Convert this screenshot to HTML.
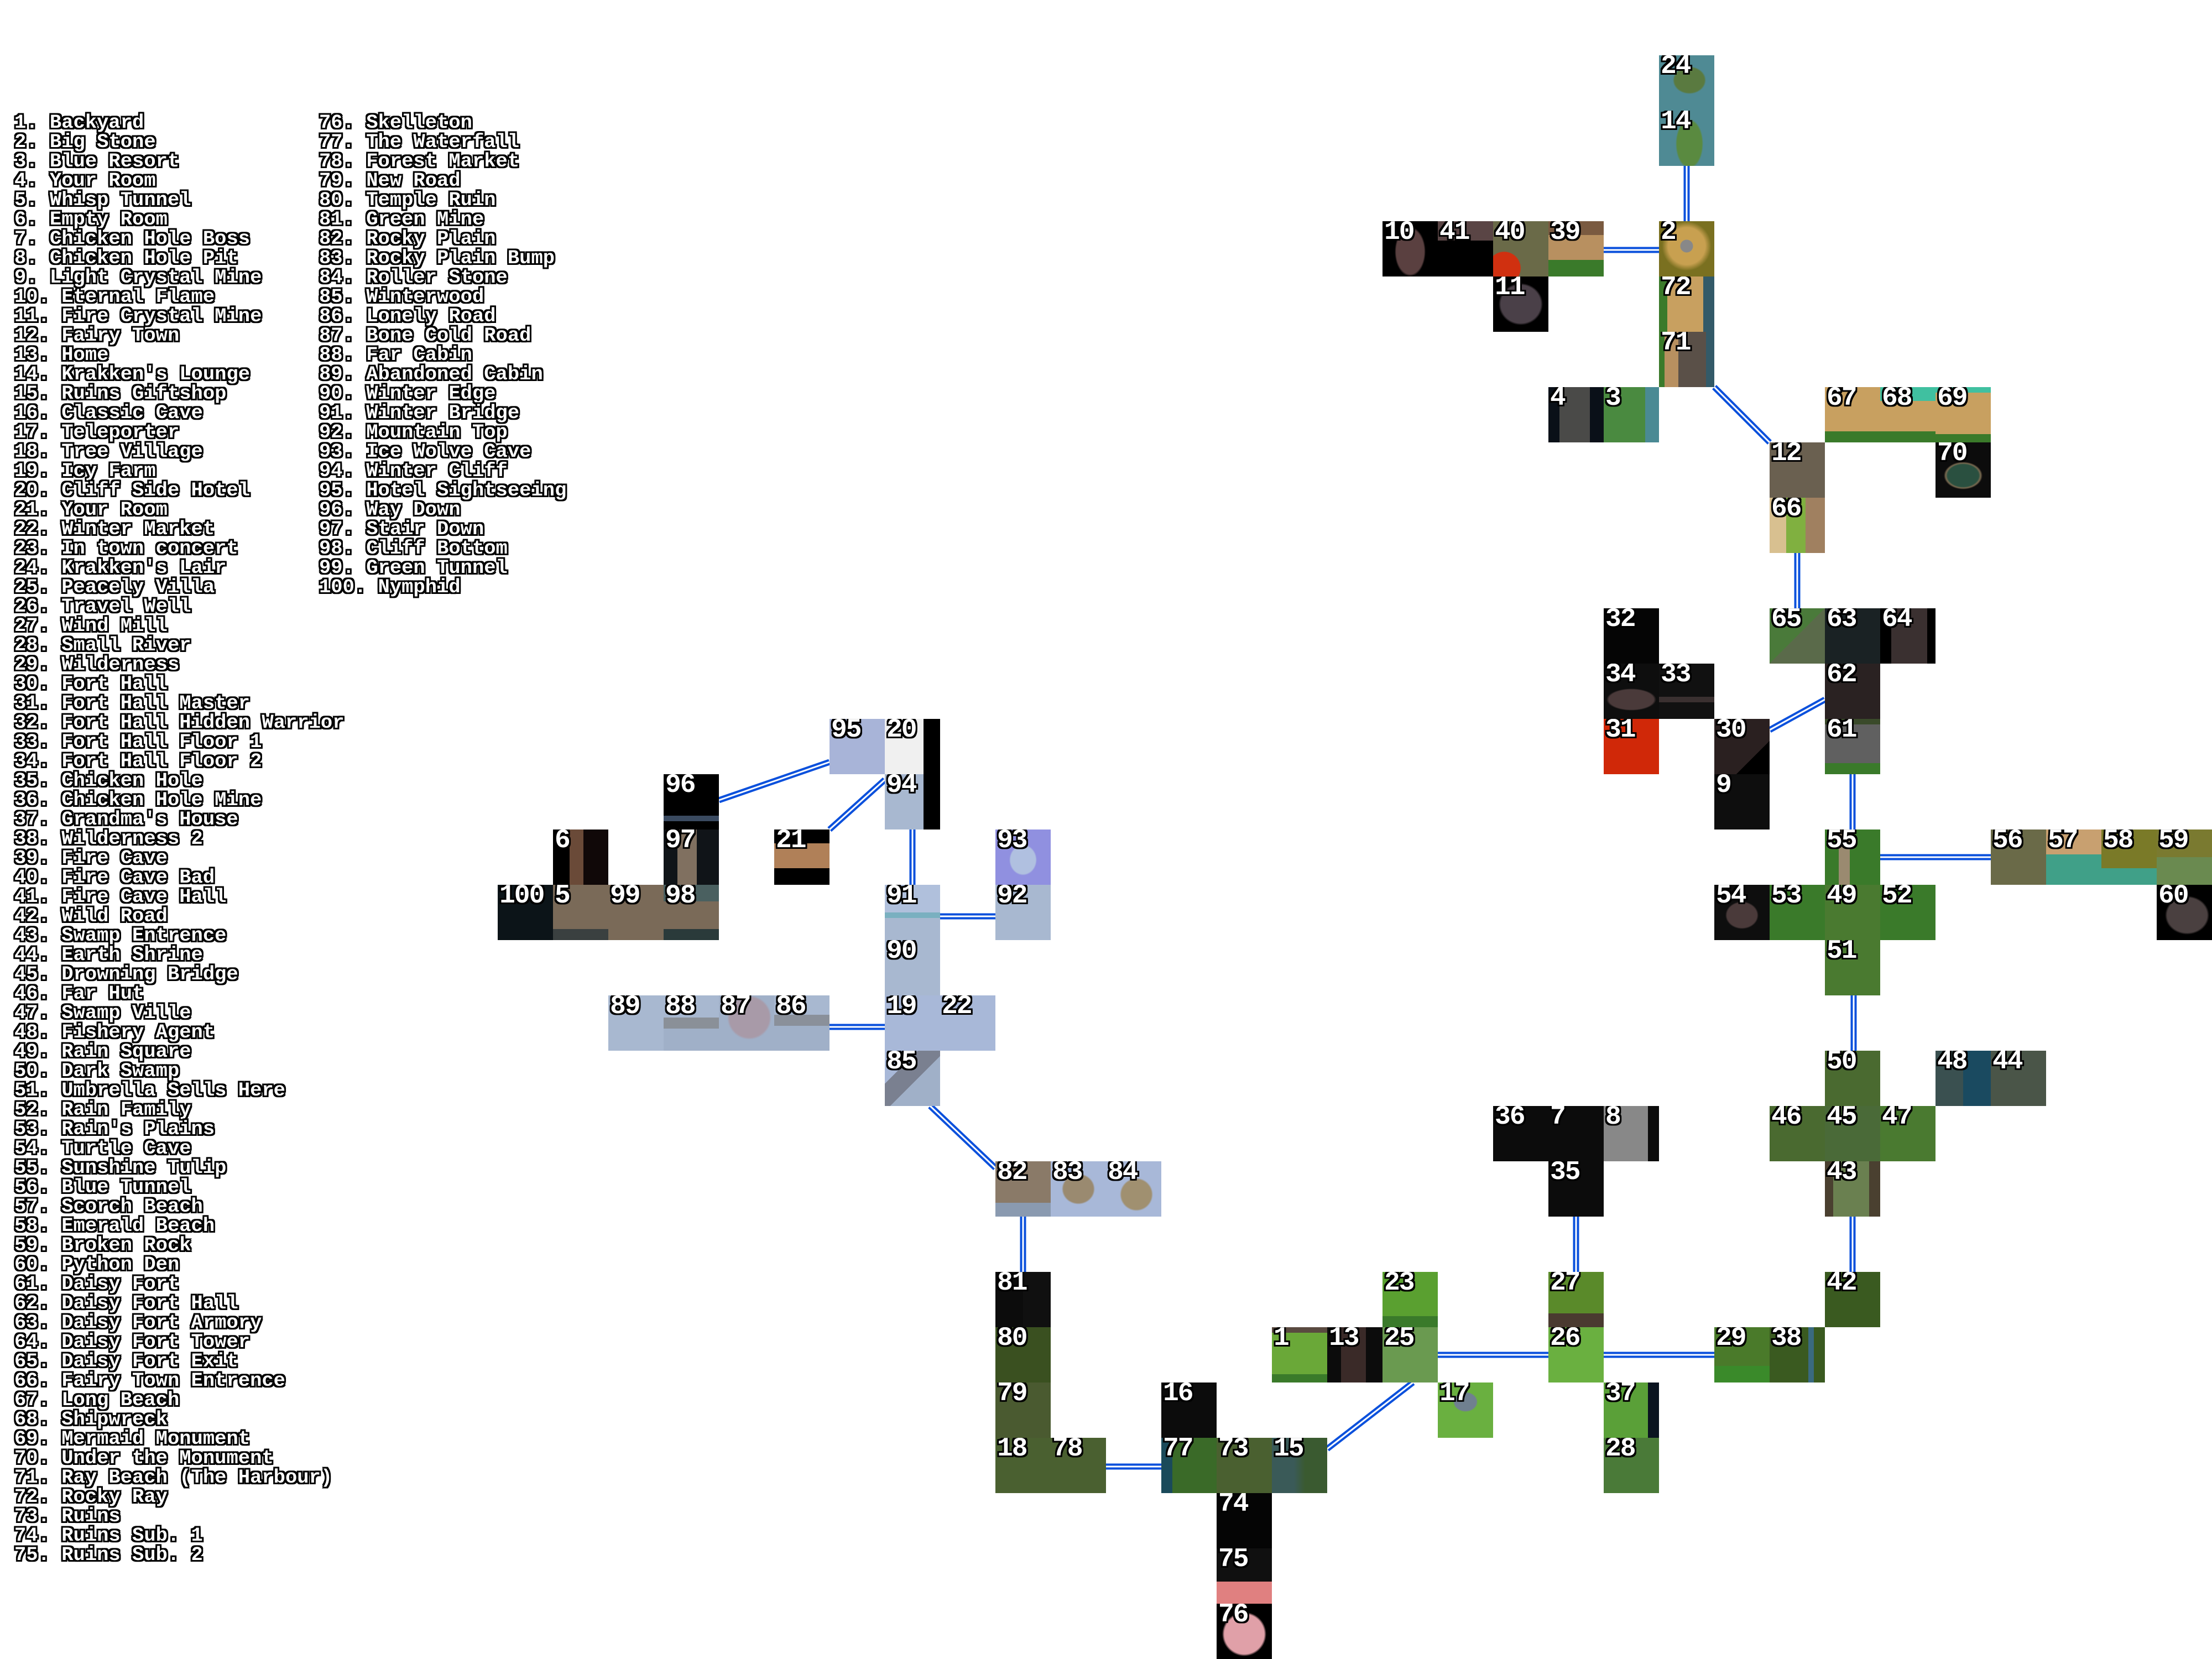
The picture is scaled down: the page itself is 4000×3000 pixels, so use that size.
<!DOCTYPE html>
<html><head><meta charset="utf-8"><style>
html,body{margin:0;padding:0;background:#fff}
body{width:4000px;height:3000px;position:relative;overflow:hidden}
.t{position:absolute;width:100px;height:100px;overflow:hidden}
.t span{position:absolute;left:3px;top:-7px;font:bold 48px "Liberation Mono",monospace;color:#fff;letter-spacing:-2px;
text-shadow:-3px -3px 0 #000,3px -3px 0 #000,-3px 3px 0 #000,3px 3px 0 #000,0 3px 0 #000,0 -3px 0 #000,3px 0 0 #000,-3px 0 0 #000}
.list{position:absolute;font:bold 35.5px/35px "Liberation Mono",monospace;color:#fff;white-space:pre;
text-shadow:-3px -3px 0 #000,3px -3px 0 #000,-3px 3px 0 #000,3px 3px 0 #000,0 3px 0 #000,0 -3px 0 #000,3px 0 0 #000,-3px 0 0 #000}
svg{position:absolute;left:0;top:0}
</style></head><body>
<svg width="4000" height="3000">
<g stroke="#0a50dc" stroke-width="11" fill="none">
<line x1="3050" y1="300" x2="3050" y2="400"/>
<line x1="2900" y1="452" x2="3000" y2="452"/>
<line x1="3100" y1="700" x2="3200" y2="800"/>
<line x1="3250" y1="1000" x2="3250" y2="1100"/>
<line x1="3200" y1="1320" x2="3300" y2="1265"/>
<line x1="3350" y1="1400" x2="3350" y2="1500"/>
<line x1="3400" y1="1550" x2="3600" y2="1550"/>
<line x1="3352" y1="1800" x2="3352" y2="1900"/>
<line x1="3350" y1="2200" x2="3350" y2="2300"/>
<line x1="2850" y1="2200" x2="2850" y2="2300"/>
<line x1="2600" y1="2450" x2="2800" y2="2450"/>
<line x1="2900" y1="2450" x2="3100" y2="2450"/>
<line x1="2555" y1="2500" x2="2400" y2="2620"/>
<line x1="2000" y1="2652" x2="2100" y2="2652"/>
<line x1="1850" y1="2200" x2="1850" y2="2300"/>
<line x1="1682" y1="2000" x2="1800" y2="2112"/>
<line x1="1650" y1="1500" x2="1650" y2="1600"/>
<line x1="1700" y1="1657" x2="1800" y2="1657"/>
<line x1="1500" y1="1857" x2="1600" y2="1857"/>
<line x1="1300" y1="1447" x2="1500" y2="1378"/>
<line x1="1500" y1="1500" x2="1600" y2="1410"/>
</g>
<g stroke="#fff" stroke-width="3" fill="none">
<line x1="3050" y1="300" x2="3050" y2="400"/>
<line x1="2900" y1="452" x2="3000" y2="452"/>
<line x1="3100" y1="700" x2="3200" y2="800"/>
<line x1="3250" y1="1000" x2="3250" y2="1100"/>
<line x1="3200" y1="1320" x2="3300" y2="1265"/>
<line x1="3350" y1="1400" x2="3350" y2="1500"/>
<line x1="3400" y1="1550" x2="3600" y2="1550"/>
<line x1="3352" y1="1800" x2="3352" y2="1900"/>
<line x1="3350" y1="2200" x2="3350" y2="2300"/>
<line x1="2850" y1="2200" x2="2850" y2="2300"/>
<line x1="2600" y1="2450" x2="2800" y2="2450"/>
<line x1="2900" y1="2450" x2="3100" y2="2450"/>
<line x1="2555" y1="2500" x2="2400" y2="2620"/>
<line x1="2000" y1="2652" x2="2100" y2="2652"/>
<line x1="1850" y1="2200" x2="1850" y2="2300"/>
<line x1="1682" y1="2000" x2="1800" y2="2112"/>
<line x1="1650" y1="1500" x2="1650" y2="1600"/>
<line x1="1700" y1="1657" x2="1800" y2="1657"/>
<line x1="1500" y1="1857" x2="1600" y2="1857"/>
<line x1="1300" y1="1447" x2="1500" y2="1378"/>
<line x1="1500" y1="1500" x2="1600" y2="1410"/>
</g>
</svg>

<div class="list" style="left:26px;top:204px">1. Backyard
2. Big Stone
3. Blue Resort
4. Your Room
5. Whisp Tunnel
6. Empty Room
7. Chicken Hole Boss
8. Chicken Hole Pit
9. Light Crystal Mine
10. Eternal Flame
11. Fire Crystal Mine
12. Fairy Town
13. Home
14. Krakken's Lounge
15. Ruins Giftshop
16. Classic Cave
17. Teleporter
18. Tree Village
19. Icy Farm
20. Cliff Side Hotel
21. Your Room
22. Winter Market
23. In town concert
24. Krakken's Lair
25. Peacely Villa
26. Travel Well
27. Wind Mill
28. Small River
29. Wilderness
30. Fort Hall
31. Fort Hall Master
32. Fort Hall Hidden Warrior
33. Fort Hall Floor 1
34. Fort Hall Floor 2
35. Chicken Hole
36. Chicken Hole Mine
37. Grandma's House
38. Wilderness 2
39. Fire Cave
40. Fire Cave Bad
41. Fire Cave Hall
42. Wild Road
43. Swamp Entrence
44. Earth Shrine
45. Drowning Bridge
46. Far Hut
47. Swamp Ville
48. Fishery Agent
49. Rain Square
50. Dark Swamp
51. Umbrella Sells Here
52. Rain Family
53. Rain's Plains
54. Turtle Cave
55. Sunshine Tulip
56. Blue Tunnel
57. Scorch Beach
58. Emerald Beach
59. Broken Rock
60. Python Den
61. Daisy Fort
62. Daisy Fort Hall
63. Daisy Fort Armory
64. Daisy Fort Tower
65. Daisy Fort Exit
66. Fairy Town Entrence
67. Long Beach
68. Shipwreck
69. Mermaid Monument
70. Under the Monument
71. Ray Beach (The Harbour)
72. Rocky Ray
73. Ruins
74. Ruins Sub. 1
75. Ruins Sub. 2</div>
<div class="list" style="left:577px;top:204px">76. Skelleton
77. The Waterfall
78. Forest Market
79. New Road
80. Temple Ruin
81. Green Mine
82. Rocky Plain
83. Rocky Plain Bump
84. Roller Stone
85. Winterwood
86. Lonely Road
87. Bone Cold Road
88. Far Cabin
89. Abandoned Cabin
90. Winter Edge
91. Winter Bridge
92. Mountain Top
93. Ice Wolve Cave
94. Winter Cliff
95. Hotel Sightseeing
96. Way Down
97. Stair Down
98. Cliff Bottom
99. Green Tunnel
100. Nymphid</div>

<div class="t" style="left:3000px;top:100px;background:radial-gradient(ellipse 30px 25px at 55% 45%,#5a7a40 90%,transparent 100%),#4f8a94"><span>24</span></div>
<div class="t" style="left:3000px;top:200px;background:radial-gradient(ellipse 25px 45px at 55% 60%,#5a8a40 90%,transparent 100%),#4f8a94"><span>14</span></div>
<div class="t" style="left:2500px;top:400px;background:radial-gradient(ellipse 28px 45px at 50% 55%,#5a4040 90%,transparent 100%),#000"><span>10</span></div>
<div class="t" style="left:2600px;top:400px;background:linear-gradient(#5a4545 0 35%,#000 35%)"><span>41</span></div>
<div class="t" style="left:2700px;top:400px;background:radial-gradient(circle at 20% 85%,#d03010 25%,transparent 26%),#6a6a48"><span>40</span></div>
<div class="t" style="left:2800px;top:400px;background:linear-gradient(#7a5a40 0 25%,#b89060 25% 70%,#3a7a2a 70%)"><span>39</span></div>
<div class="t" style="left:3000px;top:400px;background:radial-gradient(circle at 50% 45%,#888 15%,#c8a050 16% 45%,#7a7020 60%)"><span>2</span></div>
<div class="t" style="left:2700px;top:500px;background:radial-gradient(ellipse 40px 38px at 50% 50%,#4a4048 90%,#000 100%)"><span>11</span></div>
<div class="t" style="left:3000px;top:500px;background:linear-gradient(90deg,#3a7a2a 0 15%,#c8a060 15% 80%,#335a68 80%)"><span>72</span></div>
<div class="t" style="left:3000px;top:600px;background:linear-gradient(90deg,#3a7a2a 0 10%,#b89060 10% 35%,#5a5048 35% 85%,#335a68 85%)"><span>71</span></div>
<div class="t" style="left:2800px;top:700px;background:linear-gradient(90deg,#0a1018 0 20%,#4a4a48 20% 75%,#0a1018 75%)"><span>4</span></div>
<div class="t" style="left:2900px;top:700px;background:linear-gradient(90deg,#4a8a40 0 75%,#4a8a94 75%)"><span>3</span></div>
<div class="t" style="left:3300px;top:700px;background:linear-gradient(#c8a060 0 80%,#3a7a2a 80%)"><span>67</span></div>
<div class="t" style="left:3400px;top:700px;background:linear-gradient(#40c0a0 0 25%,#c8a060 25% 80%,#3a7a2a 80%)"><span>68</span></div>
<div class="t" style="left:3500px;top:700px;background:linear-gradient(#40c0a0 0 10%,#c8a060 10% 85%,#3a7a2a 85%)"><span>69</span></div>
<div class="t" style="left:3200px;top:800px;background:#6a6050"><span>12</span></div>
<div class="t" style="left:3500px;top:800px;background:radial-gradient(ellipse 35px 25px at 50% 60%,#2a5040 80%,#7a6a50 90%,#0c0c0c 100%)"><span>70</span></div>
<div class="t" style="left:3200px;top:900px;background:linear-gradient(90deg,#d8c090 0 30%,#80b040 30% 65%,#a08060 65%)"><span>66</span></div>
<div class="t" style="left:2900px;top:1100px;background:#050505"><span>32</span></div>
<div class="t" style="left:2900px;top:1200px;background:radial-gradient(ellipse 45px 20px at 50% 65%,#4a3a3a 90%,#0e0e0e 100%)"><span>34</span></div>
<div class="t" style="left:3000px;top:1200px;background:linear-gradient(#111 0 60%,#3a3030 60% 70%,#111 70%)"><span>33</span></div>
<div class="t" style="left:2900px;top:1300px;background:#d02808"><span>31</span></div>
<div class="t" style="left:3100px;top:1300px;background:linear-gradient(135deg,#2a2020 0 70%,#000 70%)"><span>30</span></div>
<div class="t" style="left:3100px;top:1400px;background:#0e0e0e"><span>9</span></div>
<div class="t" style="left:3200px;top:1100px;background:linear-gradient(135deg,#4a7a3a 0 50%,#5a6a4a 50%)"><span>65</span></div>
<div class="t" style="left:3300px;top:1100px;background:#1a2224"><span>63</span></div>
<div class="t" style="left:3400px;top:1100px;background:linear-gradient(90deg,#000 0 20%,#3a3030 20% 85%,#000 85%)"><span>64</span></div>
<div class="t" style="left:3300px;top:1200px;background:#2a2222"><span>62</span></div>
<div class="t" style="left:3300px;top:1300px;background:linear-gradient(#3a4a2a 0 10%,#606060 10% 80%,#3a7a2a 80%)"><span>61</span></div>
<div class="t" style="left:3300px;top:1500px;background:linear-gradient(90deg,#3a7a2a 0 25%,#9a8a70 25% 45%,#3a7a2a 45%)"><span>55</span></div>
<div class="t" style="left:3600px;top:1500px;background:#6a6a48"><span>56</span></div>
<div class="t" style="left:3700px;top:1500px;background:linear-gradient(#c8a070 0 45%,#40a088 45%)"><span>57</span></div>
<div class="t" style="left:3800px;top:1500px;background:linear-gradient(#7a7a28 0 70%,#40a088 70%)"><span>58</span></div>
<div class="t" style="left:3900px;top:1500px;background:linear-gradient(#7a7a30 0 50%,#6a8a50 50%)"><span>59</span></div>
<div class="t" style="left:3100px;top:1600px;background:radial-gradient(ellipse 30px 25px at 50% 55%,#4a3a3a 90%,#0e0e0e 100%)"><span>54</span></div>
<div class="t" style="left:3200px;top:1600px;background:#3a7a2a"><span>53</span></div>
<div class="t" style="left:3300px;top:1600px;background:#4a7a30"><span>49</span></div>
<div class="t" style="left:3400px;top:1600px;background:#3a7a2a"><span>52</span></div>
<div class="t" style="left:3900px;top:1600px;background:radial-gradient(ellipse 40px 35px at 55% 55%,#4a4040 90%,#000 100%)"><span>60</span></div>
<div class="t" style="left:3300px;top:1700px;background:#4a7a30"><span>51</span></div>
<div class="t" style="left:3300px;top:1900px;background:#4a6a30"><span>50</span></div>
<div class="t" style="left:3500px;top:1900px;background:linear-gradient(90deg,#3a5050 0 50%,#1a4a60 50%)"><span>48</span></div>
<div class="t" style="left:3600px;top:1900px;background:#4a5548"><span>44</span></div>
<div class="t" style="left:3200px;top:2000px;background:#4a6a30"><span>46</span></div>
<div class="t" style="left:3300px;top:2000px;background:#4a6a38"><span>45</span></div>
<div class="t" style="left:3400px;top:2000px;background:#4a7a30"><span>47</span></div>
<div class="t" style="left:2700px;top:2000px;background:#0c0c0c"><span>36</span></div>
<div class="t" style="left:2800px;top:2000px;background:#0c0c0c"><span>7</span></div>
<div class="t" style="left:2900px;top:2000px;background:linear-gradient(90deg,#888 0 80%,#0c0c0c 80%)"><span>8</span></div>
<div class="t" style="left:2800px;top:2100px;background:#0c0c0c"><span>35</span></div>
<div class="t" style="left:3300px;top:2100px;background:linear-gradient(90deg,#4a4030 0 15%,#6a8050 15% 80%,#4a4030 80%)"><span>43</span></div>
<div class="t" style="left:3300px;top:2300px;background:#3a5a20"><span>42</span></div>
<div class="t" style="left:2800px;top:2300px;background:linear-gradient(#5a8a2a 0 75%,#4a3a30 75%)"><span>27</span></div>
<div class="t" style="left:2500px;top:2300px;background:linear-gradient(#5aa030 0 80%,#3a7a2a 80%)"><span>23</span></div>
<div class="t" style="left:2300px;top:2400px;background:linear-gradient(#5a4a40 0 10%,#6aa838 10% 85%,#3a7a2a 85%)"><span>1</span></div>
<div class="t" style="left:2400px;top:2400px;background:linear-gradient(90deg,#0c0c0c 0 25%,#3a2a28 25% 70%,#0c0c0c 70%)"><span>13</span></div>
<div class="t" style="left:2500px;top:2400px;background:#6a9a50"><span>25</span></div>
<div class="t" style="left:2800px;top:2400px;background:#6ab040"><span>26</span></div>
<div class="t" style="left:3100px;top:2400px;background:linear-gradient(#4a7a2a 0 70%,#3a8a2a 70%)"><span>29</span></div>
<div class="t" style="left:3200px;top:2400px;background:linear-gradient(90deg,#3a5a20 0 70%,#3a6a80 70% 80%,#3a5a20 80%)"><span>38</span></div>
<div class="t" style="left:2600px;top:2500px;background:radial-gradient(ellipse 22px 18px at 50% 35%,#708090 90%,#6ab040 100%)"><span>17</span></div>
<div class="t" style="left:2900px;top:2500px;background:linear-gradient(90deg,#5aa038 0 80%,#0a1420 80%)"><span>37</span></div>
<div class="t" style="left:2900px;top:2600px;background:#4a7a38"><span>28</span></div>
<div class="t" style="left:2100px;top:2500px;background:#0c0c0c"><span>16</span></div>
<div class="t" style="left:2100px;top:2600px;background:linear-gradient(90deg,#1a4a5a 0 20%,#3a6a28 20%)"><span>77</span></div>
<div class="t" style="left:2200px;top:2600px;background:#4a6030"><span>73</span></div>
<div class="t" style="left:2300px;top:2600px;background:linear-gradient(90deg,#3a5a58 0 40%,#3a5a30 60%)"><span>15</span></div>
<div class="t" style="left:1800px;top:2600px;background:#4a6030"><span>18</span></div>
<div class="t" style="left:1900px;top:2600px;background:#4a6030"><span>78</span></div>
<div class="t" style="left:2200px;top:2700px;background:#050505"><span>74</span></div>
<div class="t" style="left:2200px;top:2800px;background:linear-gradient(#101010 0 60%,#e08080 60%)"><span>75</span></div>
<div class="t" style="left:2200px;top:2900px;background:radial-gradient(ellipse 40px 40px at 50% 55%,#e0a0a8 90%,#000 100%)"><span>76</span></div>
<div class="t" style="left:1800px;top:2300px;background:linear-gradient(90deg,#0c0c0c 0 50%,#101010 50%)"><span>81</span></div>
<div class="t" style="left:1800px;top:2400px;background:#3a5020"><span>80</span></div>
<div class="t" style="left:1800px;top:2500px;background:#4a5a30"><span>79</span></div>
<div class="t" style="left:1800px;top:2100px;background:linear-gradient(#8a7a68 0 75%,#8a9ab0 75%)"><span>82</span></div>
<div class="t" style="left:1900px;top:2100px;background:radial-gradient(ellipse 30px 28px at 50% 50%,#9a8a70 90%,#a8b8d8 100%)"><span>83</span></div>
<div class="t" style="left:2000px;top:2100px;background:radial-gradient(ellipse 30px 30px at 55% 60%,#a09070 90%,#a8b8d8 100%)"><span>84</span></div>
<div class="t" style="left:1600px;top:1900px;background:linear-gradient(135deg,#a8b8d8 0 30%,#7a8090 30% 55%,#a0b0c8 55%)"><span>85</span></div>
<div class="t" style="left:1100px;top:1800px;background:#a8b8d0"><span>89</span></div>
<div class="t" style="left:1200px;top:1800px;background:linear-gradient(#a8b8d0 0 40%,#8a9098 40% 60%,#a0b0c8 60%)"><span>88</span></div>
<div class="t" style="left:1300px;top:1800px;background:radial-gradient(ellipse 40px 40px at 55% 40%,#a89aa8 90%,#a0b0c8 100%)"><span>87</span></div>
<div class="t" style="left:1400px;top:1800px;background:linear-gradient(#a8b8d0 0 35%,#8a909a 35% 55%,#a0b0c8 55%)"><span>86</span></div>
<div class="t" style="left:1600px;top:1800px;background:#a8b8d8"><span>19</span></div>
<div class="t" style="left:1700px;top:1800px;background:#a8b8d8"><span>22</span></div>
<div class="t" style="left:1600px;top:1700px;background:#a8b8d0"><span>90</span></div>
<div class="t" style="left:1600px;top:1600px;background:linear-gradient(#b0c0dc 0 50%,#7ab0c0 50% 60%,#a8b8d0 60%)"><span>91</span></div>
<div class="t" style="left:1800px;top:1600px;background:#a8b8d0"><span>92</span></div>
<div class="t" style="left:1800px;top:1500px;background:radial-gradient(ellipse 25px 28px at 50% 55%,#b0c0e0 90%,#9090e0 100%)"><span>93</span></div>
<div class="t" style="left:1600px;top:1400px;background:linear-gradient(90deg,#a8b8d0 0 70%,#000 70%)"><span>94</span></div>
<div class="t" style="left:1500px;top:1300px;background:#a8b4d8"><span>95</span></div>
<div class="t" style="left:1600px;top:1300px;background:linear-gradient(90deg,#f0f0f0 0 70%,#000 70%)"><span>20</span></div>
<div class="t" style="left:1200px;top:1400px;background:linear-gradient(#000 0 75%,#3a4a60 75% 85%,#000 85%)"><span>96</span></div>
<div class="t" style="left:1200px;top:1500px;background:linear-gradient(90deg,#101418 0 25%,#807060 25% 60%,#101418 60%)"><span>97</span></div>
<div class="t" style="left:1400px;top:1500px;background:linear-gradient(#000 0 25%,#b08058 25% 70%,#000 70%)"><span>21</span></div>
<div class="t" style="left:1000px;top:1500px;background:linear-gradient(90deg,#000 0 30%,#6a4a38 30% 55%,#100808 55%)"><span>6</span></div>
<div class="t" style="left:900px;top:1600px;background:#0c1418"><span>100</span></div>
<div class="t" style="left:1000px;top:1600px;background:linear-gradient(#7a6a58 0 80%,#3a4040 80%)"><span>5</span></div>
<div class="t" style="left:1100px;top:1600px;background:#7a6a58"><span>99</span></div>
<div class="t" style="left:1200px;top:1600px;background:linear-gradient(#4a6060 0 30%,#7a6a58 30% 80%,#2a3a3a 80%)"><span>98</span></div>
</body></html>
